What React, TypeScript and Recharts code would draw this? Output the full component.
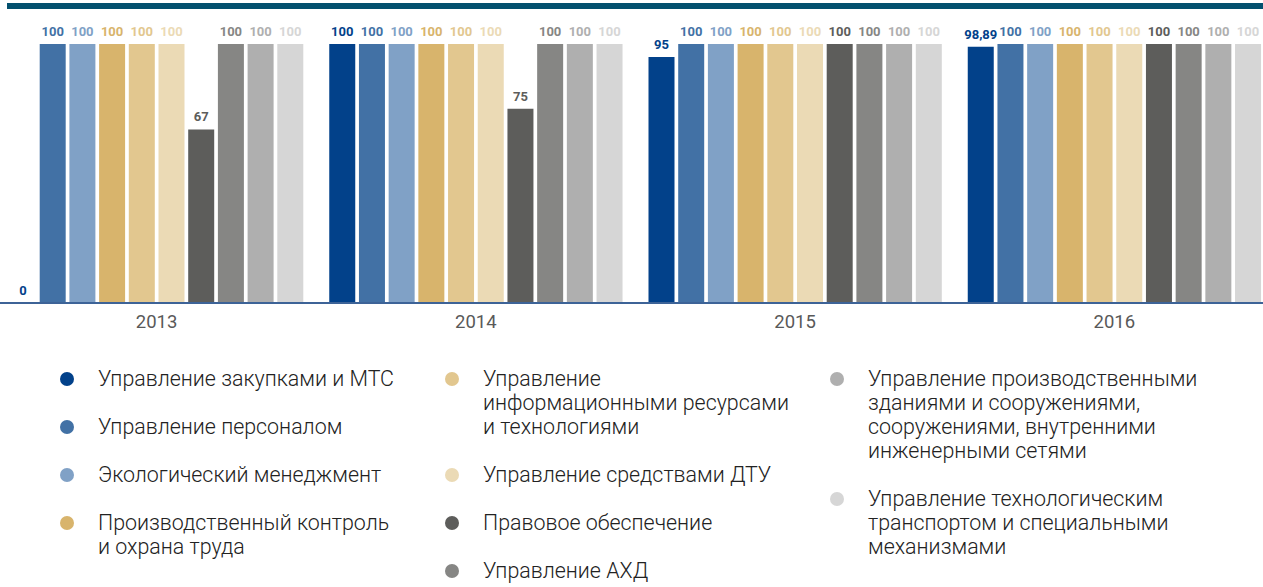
import React from 'react';
import { BarChart, Bar, XAxis, YAxis, LabelList, Legend } from 'recharts';

const years = ['2013', '2014', '2015', '2016'];

const seriesNames = [
  'Управление закупками и МТС',
  'Управление персоналом',
  'Экологический менеджмент',
  'Производственный контроль и охрана труда',
  'Управление информационными ресурсами и технологиями',
  'Управление средствами ДТУ',
  'Правовое обеспечение',
  'Управление АХД',
  'Управление производственными зданиями и сооружениями, сооружениями, внутренними инженерными сетями',
  'Управление технологическим транспортом и специальными механизмами',
];

// legend text, broken into lines as in the original
const legendLines = [
  ['Управление закупками и МТС'],
  ['Управление персоналом'],
  ['Экологический менеджмент'],
  ['Производственный контроль', 'и охрана труда'],
  ['Управление', 'информационными ресурсами', 'и технологиями'],
  ['Управление средствами ДТУ'],
  ['Правовое обеспечение'],
  ['Управление АХД'],
  ['Управление производственными', 'зданиями и сооружениями,', 'сооружениями, внутренними', 'инженерными сетями'],
  ['Управление технологическим', 'транспортом и специальными', 'механизмами'],
];

const mts = [0, 100, 95, 98.89];
const personnel = [100, 100, 100, 100];
const ecology = [100, 100, 100, 100];
const control = [100, 100, 100, 100];
const infoRes = [100, 100, 100, 100];
const dtu = [100, 100, 100, 100];
const legal = [67, 75, 100, 100];
const ahd = [100, 100, 100, 100];
const buildings = [100, 100, 100, 100];
const transport = [100, 100, 100, 100];

const seriesValues = [mts, personnel, ecology, control, infoRes, dtu, legal, ahd, buildings, transport];

const COLORS = [
  '#02418a', '#4271a5', '#80a1c6', '#d8b46c', '#e2c78f',
  '#ebdab5', '#5d5d5b', '#868684', '#afafaf', '#d6d6d6',
];

const keys = seriesNames.map((_, i) => `s${i}`);

const data = years.map((year, yi) => {
  const row: Record<string, string | number> = { year };
  seriesValues.forEach((vals, si) => {
    row[keys[si]] = vals[yi];
  });
  return row;
});

const legendColumns = [[0, 1, 2, 3], [4, 5, 6, 7], [8, 9]];

const LegendContent = () => (
  <div style={{ display: 'flex', fontFamily: 'Roboto', fontWeight: 300, fontSize: 21.4, lineHeight: '24px', color: '#222' }}>
    {legendColumns.map((col, ci) => (
      <div key={ci} style={{ width: 385 }}>
        {col.map(idx => (
          <div key={idx} style={{ display: 'flex', marginBottom: 24 }}>
            <div style={{ width: 14, height: 14, borderRadius: 7, background: COLORS[idx], marginTop: 5, marginRight: 24, flexShrink: 0 }} />
            <div>
              {legendLines[idx].map((ln, li) => (
                <div key={li} style={{ whiteSpace: 'nowrap' }}>{ln}</div>
              ))}
            </div>
          </div>
        ))}
      </div>
    ))}
  </div>
);

const fmt = (v: any) => String(v).replace('.', ',');

// value label above each bar
const makeLabel = (color: string) => (props: any) => {
  const { x, y, width, value } = props;
  if (value == null) return null;
  return (
    <text
      x={Number(x) + Number(width) / 2}
      y={Number(y) - 8}
      textAnchor="middle"
      fontSize={13}
      fontWeight={700}
      fontFamily="Roboto"
      fill={color}
    >
      {fmt(value)}
    </text>
  );
};

// tiny size so zero-value bars still get a label
const minSize = (v: any) => (v === 0 ? 0.01 : 0);

export default function App() {
  return (
    <div style={{ position: 'absolute', left: 0, top: 0, width: 1263, height: 587, overflow: 'hidden', background: '#fff', fontFamily: 'Roboto' }}>
      {/* top band */}
      <div style={{ position: 'absolute', left: 7, top: 3, width: 1256, height: 6, background: '#03506e' }} />
      <BarChart
        width={1263}
        height={587}
        data={data}
        margin={{ top: 44, right: -11, left: -3, bottom: 254 }}
        barSize={26}
        barGap={3.7}
      >
        <XAxis
          dataKey="year"
          height={30}
          axisLine={{ stroke: '#3d6397', strokeWidth: 2 }}
          tickLine={false}
          tickSize={0}
          tickMargin={12}
          tick={{ fontSize: 18.5, fill: '#595959', fontFamily: 'Roboto' }}
        />
        <YAxis hide domain={[0, 100]} />
        <Legend
          layout="horizontal"
          verticalAlign="middle"
          content={<LegendContent />}
          wrapperStyle={{ top: 367, left: 60, width: 1200, height: 220 }}
        />
        {keys.map((k, i) => (
          <Bar key={k} dataKey={k} name={seriesNames[i]} fill={COLORS[i]} minPointSize={minSize} isAnimationActive={false}>
            <LabelList dataKey={k} content={makeLabel(COLORS[i])} />
          </Bar>
        ))}
      </BarChart>
    </div>
  );
}
